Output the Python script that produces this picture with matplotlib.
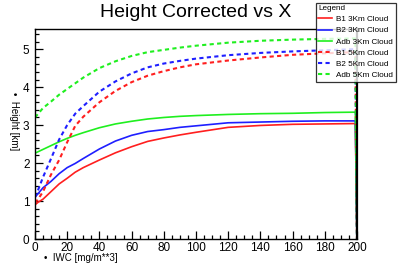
import matplotlib
matplotlib.use("Agg")
import matplotlib.pyplot as plt
from matplotlib.ticker import MultipleLocator

plt.rcParams['font.family'] = ['Liberation Sans', 'DejaVu Sans']

title = "Height Corrected vs X"
xlabel = "\u2022  IWC [mg/m**3]"
ylabel = "\u2022  Height [km]"

iwc = [0, 2, 5, 10, 15, 20, 25, 30, 40, 50, 60, 70, 80, 90, 100, 120, 140, 160, 180, 199, 200]

b1_3km = [0.9, 0.97, 1.05, 1.25, 1.45, 1.6, 1.76, 1.88, 2.08, 2.27, 2.43, 2.57, 2.66, 2.74, 2.81, 2.94, 2.99, 3.02, 3.03, 3.04, 0]
b2_3km = [1.1, 1.2, 1.35, 1.52, 1.72, 1.88, 1.99, 2.12, 2.37, 2.58, 2.73, 2.83, 2.88, 2.94, 2.98, 3.06, 3.08, 3.1, 3.11, 3.11, 0]
adb_3km = [2.26, 2.3, 2.36, 2.46, 2.56, 2.65, 2.73, 2.8, 2.93, 3.03, 3.1, 3.16, 3.2, 3.23, 3.25, 3.28, 3.3, 3.31, 3.33, 3.34, 0]
b1_5km = [0.95, 1.05, 1.25, 1.7, 2.08, 2.55, 2.98, 3.22, 3.6, 3.9, 4.13, 4.3, 4.42, 4.52, 4.6, 4.7, 4.78, 4.85, 4.89, 4.92, 0]
b2_5km = [1.1, 1.3, 1.63, 2.12, 2.62, 3.0, 3.3, 3.5, 3.88, 4.15, 4.36, 4.52, 4.62, 4.69, 4.75, 4.84, 4.9, 4.94, 4.97, 5.0, 0]
adb_5km = [3.2, 3.3, 3.45, 3.62, 3.8, 3.95, 4.1, 4.25, 4.5, 4.68, 4.82, 4.92, 4.98, 5.04, 5.09, 5.17, 5.22, 5.25, 5.27, 5.28, 0]

dash = (0, (2.0, 1.6))
series = [
    ("B1 3Km Cloud", b1_3km, "#ff1f1f", "-"),
    ("B2 3Km Cloud", b2_3km, "#1f1fff", "-"),
    ("Adb 3Km Cloud", adb_3km, "#1fef1f", "-"),
    ("B1 5Km Cloud", b1_5km, "#ff1f1f", dash),
    ("B2 5Km Cloud", b2_5km, "#1f1fff", dash),
    ("Adb 5Km Cloud", adb_5km, "#1fef1f", dash),
]

fig = plt.figure(figsize=(4.07, 2.66), dpi=100)
ax = fig.add_axes([0.086, 0.1015, 0.791, 0.7895])

handles = []
for name, ys, col, ls in series:
    lw = 1.2 if ls == "-" else 1.5
    h, = ax.plot(iwc, ys, color=col, linestyle=ls, linewidth=lw, label=name)
    handles.append(h)

ax.set_xlim(0, 200)
ax.set_ylim(0, 5.53)
ax.xaxis.set_major_locator(MultipleLocator(20))
ax.xaxis.set_minor_locator(MultipleLocator(5))
ax.yaxis.set_major_locator(MultipleLocator(1))
ax.yaxis.set_minor_locator(MultipleLocator(0.2))
ax.tick_params(which='both', direction='in', top=False, right=False, labelsize=8.5, width=0.9)
ax.tick_params(which='major', length=6)
ax.tick_params(which='minor', length=3)
ax.tick_params(axis='y', pad=4)
ax.tick_params(axis='x', pad=2)
for s in ax.spines.values():
    s.set_linewidth(1.0)
ax.spines['right'].set_linewidth(1.6)

fig.text(0.48, 0.953, title, ha='center', va='center', fontsize=14)
fig.text(0.108, 0.03, xlabel, ha='left', va='center', fontsize=7)
fig.text(0.035, 0.655, ylabel, ha='center', va='top', rotation=270, fontsize=7)

leg = fig.legend(handles=handles, loc='upper left', bbox_to_anchor=(0.776, 0.99),
                 title="Legend", fontsize=5.9, title_fontsize=5.9, frameon=True,
                 fancybox=False, edgecolor='black', handlelength=1.7, handletextpad=0.5,
                 labelspacing=0.42, borderpad=0.3, borderaxespad=0.0,
                 alignment='left', shadow=False)
leg.get_frame().set_linewidth(0.9)

fig.savefig("out.png", dpi=100)
